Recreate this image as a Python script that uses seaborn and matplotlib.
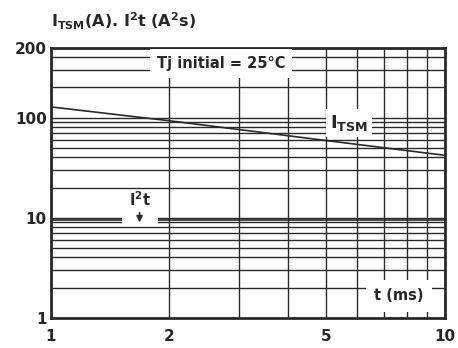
import matplotlib
matplotlib.use("Agg")
import matplotlib.pyplot as plt
import matplotlib.ticker as mticker
import seaborn as sns
import pandas as pd

# values
t_ms = [1, 2, 5, 10]
itsm = [128, 93, 59, 42]
i2t = [9.4, 9.4, 9.4, 9.4]
ytick_pos = [1, 10, 100, 500]
ytick_lbl = ["1", "10", "100", "200"]
xtick_pos = [1, 2, 5, 10]
xtick_lbl = ["1", "2", "5", "10"]

sns.set_style("white")
plt.rcParams['font.family'] = ['DejaVu Sans']
plt.rcParams['font.weight'] = 'bold'
plt.rcParams['mathtext.fontset'] = 'dejavusans'
plt.rcParams['mathtext.default'] = 'bf'

df = pd.DataFrame({"t": t_ms, "ITSM": itsm, "I2t": i2t})

fig = plt.figure(figsize=(4.58, 3.48), dpi=100)
ax = fig.add_axes([0.111, 0.087, 0.860, 0.776])

ink = "#2a2a2a"
sns.lineplot(data=df, x="t", y="ITSM", ax=ax, color=ink, lw=1.2, zorder=3)
sns.lineplot(data=df, x="t", y="I2t", ax=ax, color=ink, lw=1.2, zorder=3)

ax.set_xscale("log")
ax.set_yscale("log")
ax.set_xlim(1, 10)
ax.set_ylim(1, 500)
ax.xaxis.set_major_locator(mticker.FixedLocator(xtick_pos))
ax.xaxis.set_minor_locator(mticker.LogLocator(base=10, subs=range(2, 10)))
ax.yaxis.set_major_locator(mticker.FixedLocator(ytick_pos))
ax.yaxis.set_minor_locator(mticker.LogLocator(base=10, subs=range(2, 10)))
ax.xaxis.set_minor_formatter(mticker.NullFormatter())
ax.yaxis.set_minor_formatter(mticker.NullFormatter())
ax.set_xticklabels(xtick_lbl)
ax.set_yticklabels(ytick_lbl)
ax.tick_params(which="both", length=0, labelsize=11)
ax.tick_params(axis="x", pad=8)
ax.tick_params(axis="y", pad=3)
ax.grid(which="both", color=ink, lw=1.0, zorder=1)
ax.set_axisbelow(True)
for s in ax.spines.values():
    s.set_color(ink)
    s.set_linewidth(2)
ax.set_xlabel("")
ax.set_ylabel("")

ax.text(1.86, 350, "Tj initial = 25°C", fontsize=10.5, ha="left", va="center",
        bbox=dict(facecolor="white", edgecolor="none", pad=5), zorder=5)
ax.text(5.12, 88, r"I$_{TSM}$", fontsize=13, ha="left", va="center",
        bbox=dict(facecolor="white", edgecolor="none", pad=3), zorder=5)
ax.fill_between([1.52, 1.87], 8.5, 16, color="white", zorder=4, lw=0)
ax.text(1.68, 12.2, r"I$^{2}$t", fontsize=10.5, ha="center", va="bottom", zorder=6)
ax.annotate("", xy=(1.68, 8.4), xytext=(1.68, 12.0),
            arrowprops=dict(arrowstyle="-|>", color=ink, lw=1.2, mutation_scale=9), zorder=6)
ax.text(7.65, 1.66, "t (ms)", fontsize=10.5, ha="center", va="center",
        bbox=dict(facecolor="white", edgecolor="none", pad=6), zorder=5)

fig.text(0.112, 0.94, r"I$_{TSM}$(A). I$^{2}$t (A$^{2}$s)", fontsize=11.5, ha="left", va="center")

fig.savefig("out.png", dpi=100)
